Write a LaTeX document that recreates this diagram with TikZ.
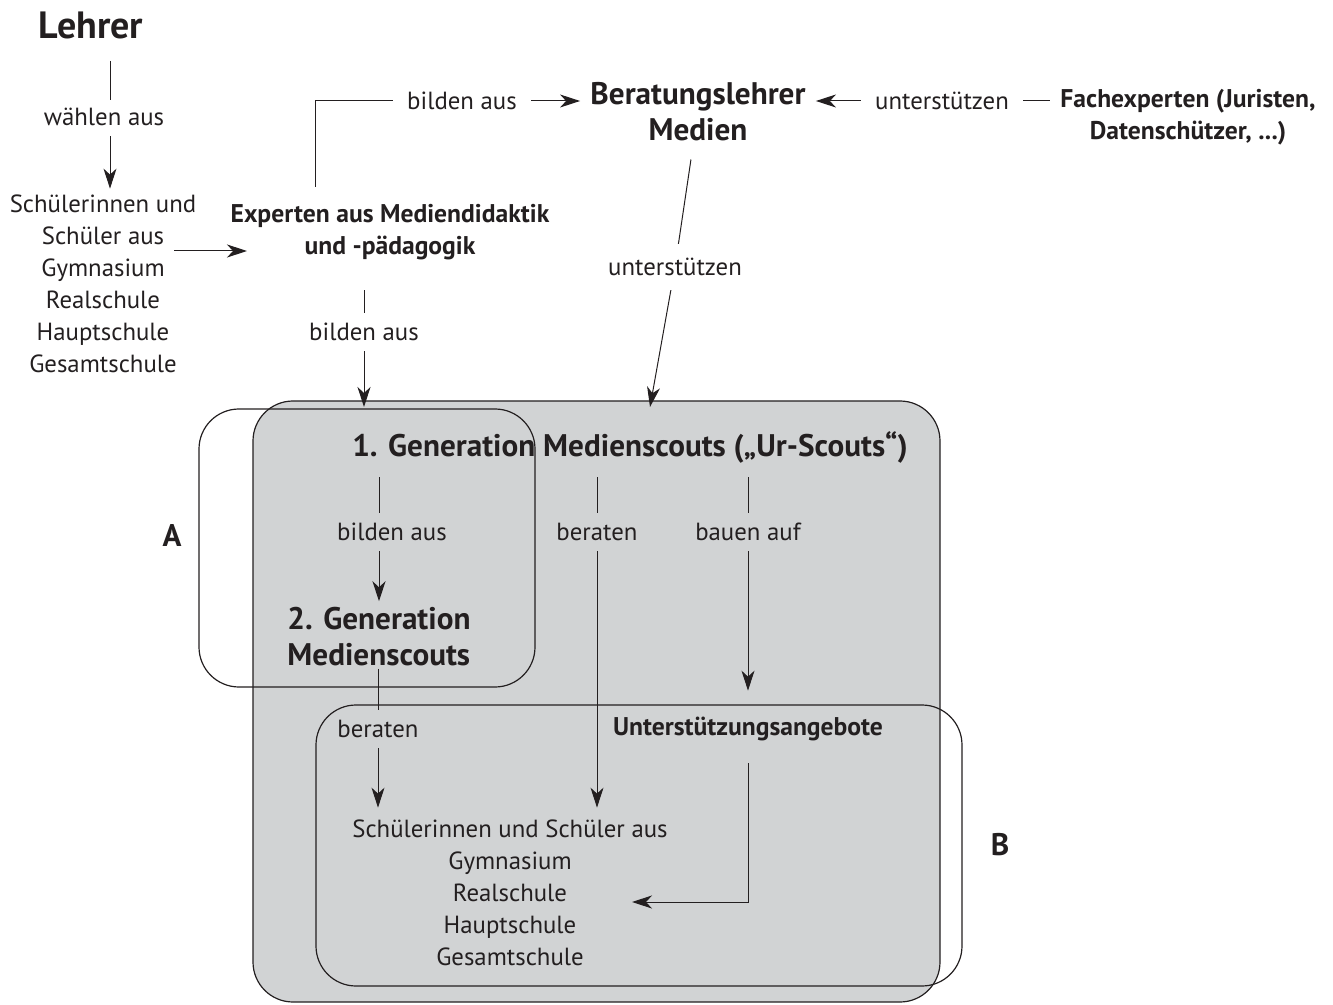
\documentclass[tikz,border=0pt]{standalone}
\usepackage{fontspec}
\setmainfont{PT Sans}
\usetikzlibrary{arrows.meta}
\definecolor{tinte}{RGB}{35,31,32}
\definecolor{flaeche}{RGB}{209,211,212}
\tikzset{
  txt/.style={inner sep=1pt, text=tinte, align=center, font=\fontsize{12.4}{16}\selectfont},
  kopf/.style={txt, font=\fontsize{15.6}{18}\selectfont\bfseries},
  halb/.style={txt, font=\fontsize{12.8}{16}\selectfont\bfseries},
  linie/.style={draw=tinte, line width=0.5pt},
  pfeil/.style={linie, -{Stealth[length=10pt,width=6.5pt,inset=3pt]}},
  rahmen/.style={draw=tinte, line width=0.6pt, rounded corners=20pt},
}

\begin{document}
\begin{tikzpicture}[x=0.5pt, y=-0.5pt]
\useasboundingbox (0,0) rectangle (1333,1005);

% Flaechen
\draw[rahmen, fill=flaeche] (253,401) rectangle (940,1002);
\draw[rahmen] (199,409) rectangle (535,687);
\draw[rahmen] (316,705) rectangle (962,986);
\node[kopf] (boxA) at (172,536) {A};
\node[kopf] (boxB) at (1000,845) {B};

% oben
\node[kopf, font=\fontsize{19}{22}\selectfont\bfseries] (lehrer) at (91,25) {Lehrer};
\node[txt] (waehlen) at (104,117) {wählen aus};
\node[txt] (schuelerL) at (103,284) {Schülerinnen und\\Schüler aus\\Gymnasium\\Realschule\\Hauptschule\\Gesamtschule};
\node[halb] (experten) at (390,232) {Experten aus Mediendidaktik\\und -pädagogik};
\node[txt] (bilden1) at (462,101) {bilden aus};
\node[kopf] (beratung) at (698,112) {Beratungslehrer\\Medien};
\node[txt] (untst1) at (942,101) {unterstützen};
\node[halb] (fach) at (1188,117) {Fachexperten (Juristen,\\Datenschützer, ...)};
\node[txt] (untst2) at (675,267) {unterstützen};
\node[txt] (bilden2) at (364,332) {bilden aus};

% Medienscouts
\node[kopf] (gen1) at (630,447) {1. Generation Medienscouts („Ur-Scouts“)};
\node[txt] (bilden3) at (392,532) {bilden aus};
\node[txt] (beraten1) at (597,532) {beraten};
\node[txt] (bauen) at (748,532) {bauen auf};
\node[kopf, align=left] (gen2) at (379,637) {2. Generation\\Medienscouts};
\node[txt] (beraten2) at (378,729) {beraten};
\node[halb] (angebote) at (748,729) {Unterstützungsangebote};
\node[txt] (schuelerM) at (510,893) {Schülerinnen und Schüler aus\\Gymnasium\\Realschule\\Hauptschule\\Gesamtschule};

\coordinate (spalte) at (110,0);
\coordinate (s1) at (174,251);
\coordinate (e1) at (247,251);
\coordinate (k0) at (315,187);
\coordinate (g1) at (650,407);
\coordinate (z1) at (632,902);

% Verbindungen
\draw[linie, shorten <=10pt, shorten >=3pt] (lehrer.south -| spalte) -- (waehlen.north -| spalte);
\draw[pfeil, shorten <=4pt, shorten >=2pt] (waehlen.south -| spalte) -- (schuelerL.north -| spalte);
\draw[pfeil] (s1) -- (e1);
\draw[linie, shorten >=6pt] (k0) |- (bilden1);
\draw[pfeil, shorten <=6pt, shorten >=4pt] (bilden1.east) -- (bilden1.east -| beratung.west);
\draw[pfeil, shorten <=6pt, shorten >=4pt] (untst1.west) -- (untst1.west -| beratung.east);
\draw[linie, shorten <=6pt, shorten >=4pt] (untst1.east) -- (untst1.east -| fach.west);
\draw[linie, shorten <=8pt, shorten >=6pt] (beratung) -- (untst2);
\draw[pfeil, shorten <=6pt] (untst2) -- (g1);
\draw[linie, shorten <=14pt, shorten >=4pt] (experten.south -| bilden2) -- (bilden2);
\draw[pfeil, shorten <=4pt] (bilden2) -- (bilden2 |- g1);
\draw[linie, shorten <=6pt, shorten >=4pt] (gen1.south -| gen2) -- (bilden3.north -| gen2);
\draw[pfeil, shorten <=4pt, shorten >=2pt] (bilden3.south -| gen2) -- (gen2);
\draw[linie, shorten <=6pt, shorten >=4pt] (gen1.south -| beraten1) -- (beraten1);
\draw[pfeil, shorten <=4pt, shorten >=5pt] (beraten1) -- (beraten1 |- schuelerM.north);
\draw[linie, shorten <=6pt, shorten >=4pt] (gen1.south -| bauen) -- (bauen);
\draw[pfeil, shorten <=4pt, shorten >=12pt] (bauen) -- (angebote);
\draw[linie, shorten >=4pt] (gen2.south -| beraten2) -- (beraten2);
\draw[pfeil, shorten <=4pt, shorten >=5pt] (beraten2) -- (beraten2 |- schuelerM.north);
\draw[pfeil, shorten <=10pt] (angebote) |- (z1);
\end{tikzpicture}
\end{document}
